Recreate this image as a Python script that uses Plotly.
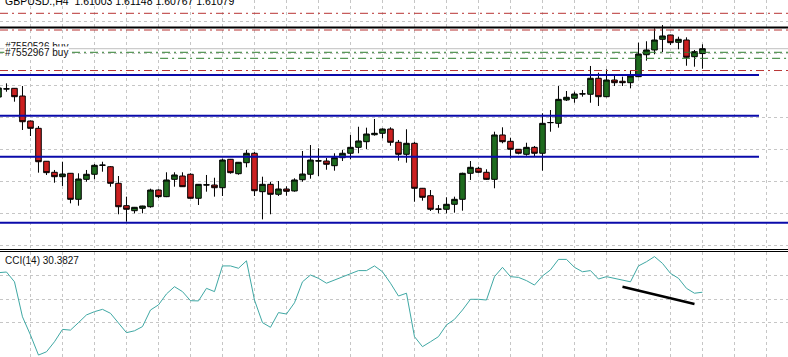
import plotly.graph_objects as go

# ---------------- data ----------------
bars = list(range(-1, 88))
opens = [1.60324, 1.60449, 1.60460, 1.60340, 1.59949, 1.59835, 1.59320, 1.59148, 1.59079, 1.59132,
         1.58726, 1.59038, 1.59117, 1.59257, 1.59235, 1.58976, 1.58626, 1.58548, 1.58585, 1.58610,
         1.58871, 1.58767, 1.59038, 1.59090, 1.59117, 1.58742, 1.58949, 1.58949, 1.58907, 1.59351,
         1.59126, 1.59298, 1.59445, 1.58845, 1.58960, 1.58804, 1.58887, 1.58856, 1.59032, 1.59117,
         1.59324, 1.59324, 1.59251, 1.59376, 1.59445, 1.59538, 1.59626, 1.59735, 1.59757, 1.59824,
         1.59617, 1.59429, 1.59601, 1.58898, 1.58782, 1.58570, 1.58570, 1.58648, 1.58726, 1.59132,
         1.59210, 1.59148, 1.59038, 1.59731, 1.59632, 1.59507, 1.59429, 1.59538, 1.59445, 1.59923,
         1.59913, 1.60278, 1.60304, 1.60371, 1.60367, 1.60617, 1.60329, 1.60590, 1.60570, 1.60548,
         1.60642, 1.60985, 1.61059, 1.61226, 1.61293, 1.61179, 1.61215, 1.60954, 1.61003]
highs = [1.60496, 1.60538, 1.60465, 1.60496, 1.59955, 1.59871, 1.59324, 1.59184, 1.59313, 1.59137,
         1.59132, 1.59184, 1.59278, 1.59313, 1.59246, 1.59090, 1.58767, 1.58606, 1.58625, 1.58892,
         1.58882, 1.59148, 1.59148, 1.59148, 1.59132, 1.58965, 1.59106, 1.59063, 1.59360, 1.59356,
         1.59309, 1.59496, 1.59465, 1.59079, 1.58996, 1.59012, 1.58929, 1.59054, 1.59481, 1.59574,
         1.59523, 1.59371, 1.59445, 1.59496, 1.59731, 1.59860, 1.59845, 1.59981, 1.59835, 1.59851,
         1.59653, 1.59820, 1.59626, 1.58903, 1.58871, 1.58637, 1.58757, 1.58767, 1.59142, 1.59324,
         1.59235, 1.59195, 1.59782, 1.59851, 1.59688, 1.59512, 1.59610, 1.59559, 1.60070, 1.60121,
         1.60496, 1.60418, 1.60407, 1.60434, 1.60809, 1.60704, 1.60757, 1.60653, 1.60642, 1.60746,
         1.61173, 1.61195, 1.61398, 1.61449, 1.61298, 1.61267, 1.61257, 1.61059, 1.61148]
lows = [1.60293, 1.60407, 1.60251, 1.59809, 1.59715, 1.59142, 1.59106, 1.58985, 1.58934, 1.58663,
        1.58626, 1.59001, 1.59038, 1.59157, 1.58923, 1.58492, 1.58376, 1.58507, 1.58507, 1.58595,
        1.58746, 1.58760, 1.58923, 1.58918, 1.58737, 1.58637, 1.58845, 1.58767, 1.58778, 1.59126,
        1.59110, 1.59226, 1.58778, 1.58413, 1.58492, 1.58778, 1.58782, 1.58845, 1.59001, 1.59048,
        1.59090, 1.59188, 1.59173, 1.59324, 1.59351, 1.59445, 1.59512, 1.59720, 1.59679, 1.59563,
        1.59329, 1.59298, 1.58688, 1.58704, 1.58543, 1.58507, 1.58507, 1.58517, 1.58548, 1.59028,
        1.59132, 1.59028, 1.58898, 1.59601, 1.59367, 1.59429, 1.59407, 1.59403, 1.59173, 1.59782,
        1.59845, 1.60262, 1.60235, 1.60329, 1.60235, 1.60184, 1.60320, 1.60496, 1.60496, 1.60460,
        1.60632, 1.60892, 1.60992, 1.61023, 1.61137, 1.61070, 1.60813, 1.60798, 1.60767]
closes = [1.60465, 1.60452, 1.60329, 1.59938, 1.59835, 1.59313, 1.59142, 1.59079, 1.59121, 1.58726,
          1.59043, 1.59117, 1.59257, 1.59260, 1.58976, 1.58610, 1.58570, 1.58601, 1.58621, 1.58871,
          1.58767, 1.59028, 1.59106, 1.58923, 1.58742, 1.58960, 1.58952, 1.58907, 1.59340, 1.59142,
          1.59304, 1.59445, 1.58860, 1.58960, 1.58804, 1.58887, 1.58851, 1.59028, 1.59121, 1.59340,
          1.59327, 1.59273, 1.59376, 1.59445, 1.59538, 1.59637, 1.59746, 1.59757, 1.59824, 1.59617,
          1.59429, 1.59601, 1.58898, 1.58757, 1.58570, 1.58573, 1.58648, 1.58726, 1.59132, 1.59226,
          1.59148, 1.59038, 1.59731, 1.59626, 1.59507, 1.59445, 1.59538, 1.59445, 1.59913, 1.59926,
          1.60288, 1.60320, 1.60371, 1.60374, 1.60617, 1.60329, 1.60590, 1.60548, 1.60548, 1.60653,
          1.60996, 1.61059, 1.61215, 1.61278, 1.61173, 1.61226, 1.60945, 1.61032, 1.61079]
cci = [114, 117, 75, -75, -153, -239, -225, -182, -129, -132,
       -100, -67, -53, -43, -60, -103, -143, -135, -117, -46,
       -24, 23, 54, 33, -6, -7, 47, 33, 143, 143,
       133, 165, -3, -100, -120, -57, -63, -15, 75, 104,
       90, 69, 83, 97, 111, 123, 123, 143, 118, 69,
       14, 26, -160, -203, -182, -160, -110, -86, -46, 0,
       0, -3, 97, 137, 97, 94, 80, 61, 100, 126,
       171, 171, 137, 118, 123, 87, 97, 90, 83, 75,
       143, 161, 183, 154, 111, 90, 47, 26, 30.3827]

red_levels = [1.61632, 1.61371, 1.60738]
black_levels = [1.61410]
bid_level = 1.61079
green_levels = [1.61023, 1.60929]
blue_levels_short = [1.60668, 1.60032, 1.59392]
blue_levels_full = [1.58360]
trend_x = [77, 86]
trend_y = [54, -20]

title_text = "GBPUSD.,H4\u00a0 1.61003 1.61148 1.60767 1.61079"
cci_text = "CCI(14) 30.3827"
order_labels = ["#7550526 buy", "#7552967 buy"]
order_label_prices = [1.61120, 1.61022]

# ---------------- figure ----------------
W, H = 788, 357
main_bottom_px = 248
cci_top_px = 252
main_dom = [(H - main_bottom_px) / H, 1]
cci_dom = [0, (H - cci_top_px) / H]

GRID = '#C6C6C6'
GDASH = '3px,3px'

fig = go.Figure()
fig.add_trace(go.Candlestick(
    x=bars, open=opens, high=highs, low=lows, close=closes,
    increasing=dict(line=dict(color='black', width=1), fillcolor='#1E6B1E'),
    decreasing=dict(line=dict(color='black', width=1), fillcolor='#CC2020'),
    whiskerwidth=0, xaxis='x', yaxis='y', hoverinfo='skip', showlegend=False))
fig.add_trace(go.Scatter(x=bars, y=cci, mode='lines',
                         line=dict(color='#3FA8A4', width=1),
                         xaxis='x2', yaxis='y2', showlegend=False, hoverinfo='skip'))
fig.add_trace(go.Scatter(x=trend_x, y=trend_y, mode='lines',
                         line=dict(color='black', width=2.5),
                         xaxis='x2', yaxis='y2', showlegend=False, hoverinfo='skip'))

shapes = []
for p in red_levels:
    shapes.append(dict(type='line', xref='paper', yref='y', x0=0, x1=1, y0=p, y1=p,
                       line=dict(color='#B83434', width=1, dash='8px,4px,2px,4px'), layer='above'))
for p in black_levels:
    shapes.append(dict(type='line', xref='paper', yref='y', x0=0, x1=1, y0=p, y1=p,
                       line=dict(color='black', width=2), layer='above'))
shapes.append(dict(type='line', xref='paper', yref='y', x0=0, x1=1, y0=bid_level, y1=bid_level,
                   line=dict(color='#C0C0C0', width=1), layer='below'))
shapes.append(dict(type='line', xref='paper', yref='y', x0=0, x1=1, y0=green_levels[0], y1=green_levels[0],
                   line=dict(color='#2E7D2E', width=1, dash='8px,4px,2px,4px'), layer='above'))
shapes.append(dict(type='line', xref='x', yref='y', x0=19.2, x1=110, y0=green_levels[1], y1=green_levels[1],
                   line=dict(color='#2E7D2E', width=1, dash='8px,4px,2px,4px'), layer='above'))
for p in blue_levels_short:
    shapes.append(dict(type='line', xref='paper', yref='y', x0=0, x1=759 / W, y0=p, y1=p,
                       line=dict(color='#0A0AAA', width=2), layer='above'))
for p in blue_levels_full:
    shapes.append(dict(type='line', xref='paper', yref='y', x0=0, x1=1, y0=p, y1=p,
                       line=dict(color='#0A0AAA', width=2), layer='above'))
# panel separators
for ypx in (249.5, 251.5):
    yy = (H - ypx) / H
    shapes.append(dict(type='line', xref='paper', yref='paper', x0=0, x1=1, y0=yy, y1=yy,
                       line=dict(color='black', width=1)))

annotations = [
    dict(text=title_text, xref='paper', yref='paper', x=3 / W, y=(H - 1) / H,
         xanchor='left', yanchor='middle', showarrow=False,
         font=dict(family='Liberation Sans, Arial, sans-serif', size=10.5, color='black')),
    dict(text=cci_text, xref='paper', yref='paper', x=3 / W, y=(H - 260.5) / H,
         xanchor='left', yanchor='middle', showarrow=False,
         font=dict(family='Liberation Sans, Arial, sans-serif', size=10, color='#111111')),
]
for lab, p in zip(order_labels, order_label_prices):
    annotations.append(dict(text=lab, xref='paper', yref='y', x=4 / W, y=p,
                            xanchor='left', yanchor='middle', showarrow=False,
                            bgcolor='white', borderpad=0,
                            font=dict(family='Liberation Sans, Arial, sans-serif', size=10, color='#111111')))

xr = [-0.81, -0.81 + W / 8]
axis_common = dict(showticklabels=False, ticks='', zeroline=False, showline=False,
                   showgrid=True, gridcolor=GRID, griddash=GDASH, gridwidth=1)

fig.update_layout(
    width=W, height=H, margin=dict(l=0, r=0, t=0, b=0),
    paper_bgcolor='white', plot_bgcolor='white', showlegend=False,
    boxgap=0.3, boxgroupgap=0,
    xaxis=dict(domain=[0, 1], range=xr, anchor='y', tick0=3, dtick=4,
               rangeslider=dict(visible=False), **axis_common),
    yaxis=dict(domain=main_dom, range=[1.6184 - main_bottom_px * 0.00015625, 1.6184],
               anchor='x', tick0=1.58, dtick=0.005, **axis_common),
    xaxis2=dict(domain=[0, 1], matches='x', anchor='y2', tick0=3, dtick=4, **axis_common),
    yaxis2=dict(domain=cci_dom, range=[-247.3, 202.7], anchor='x2',
                tickmode='array', tickvals=[-100, 0, 100], **axis_common),
    shapes=shapes, annotations=annotations,
)

fig.write_html("out.html", config={'displayModeBar': False},
               post_script="document.body.style.margin='0';document.body.style.padding='0';"
                           "document.documentElement.style.overflow='hidden';")
